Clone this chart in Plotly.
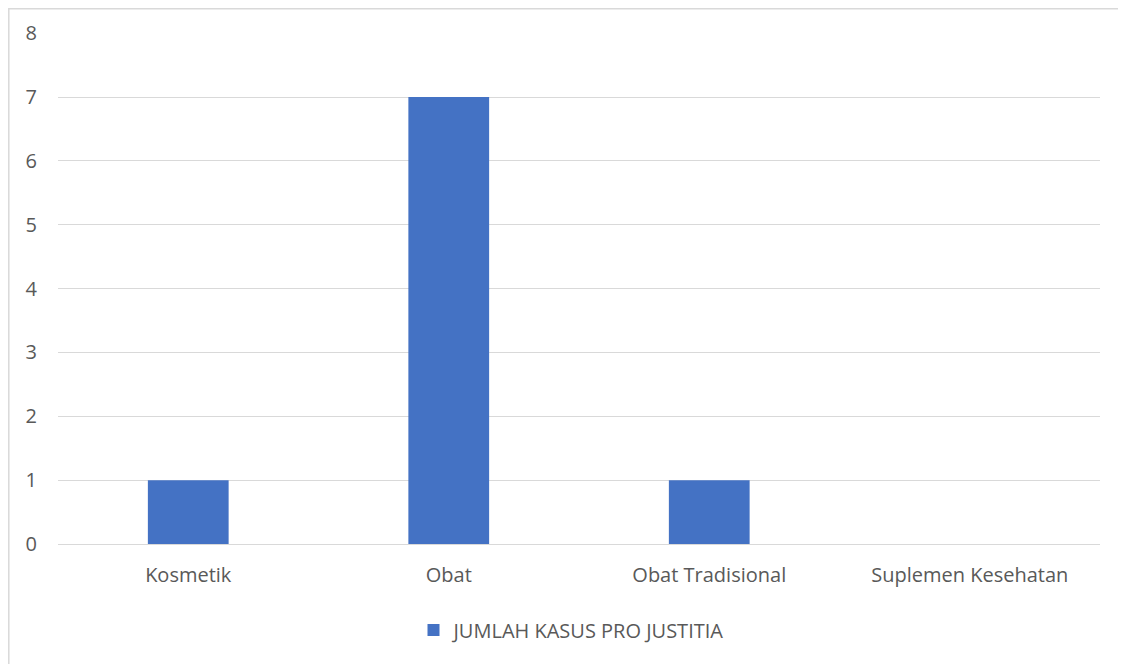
import plotly.graph_objects as go

categories = ["Kosmetik", "Obat", "Obat Tradisional", "Suplemen Kesehatan"]
values = [1, 7, 1, 0]
series_name = "JUMLAH KASUS PRO JUSTITIA"

# page body has an 8px margin; work in figure coordinates = reference - 8
OFF = 8
W, H = 1126 - OFF, 664 - OFF
L, R, T, B = 58 - OFF, 26, 33 - OFF, 120
pw, ph = W - L - R, H - T - B

fig = go.Figure()
fig.add_trace(go.Bar(
    x=categories, y=values, name=series_name,
    marker=dict(color="#4472C4", line=dict(width=0)),
    width=0.31,
))

def px2x(px):
    return (px - OFF - L) / pw

def px2y(py):
    return (H - B - (py - OFF)) / ph

FS = 20
fig.update_layout(
    width=W, height=H,
    margin=dict(l=L, r=R, t=T, b=B, autoexpand=False),
    paper_bgcolor="white", plot_bgcolor="white",
    font=dict(family="Open Sans, Noto Sans, sans-serif", size=FS, color="#595959"),
    showlegend=True,
    legend=dict(orientation="h", x=px2x(572), xanchor="center", y=px2y(630), yanchor="middle",
                font=dict(size=FS, color="#595959")),
    bargap=0.69,
    xaxis=dict(showgrid=False, showline=True, linecolor="#D9D9D9", linewidth=1,
               ticks="", tickfont=dict(size=FS, color="#595959"), ticklabelstandoff=13,
               fixedrange=True),
    yaxis=dict(range=[0, 8.003], dtick=1, showgrid=True, gridcolor="#D9D9D9", gridwidth=1,
               zeroline=False, showline=False, ticks="",
               tickfont=dict(size=FS, color="#595959"), ticklabelstandoff=20,
               fixedrange=True),
    shapes=[dict(type="rect", xref="paper", yref="paper",
                 x0=px2x(8.8), x1=px2x(1140), y0=px2y(680), y1=px2y(8.8),
                 line=dict(color="#D9D9D9", width=1.5), fillcolor="rgba(0,0,0,0)", layer="below")],
)

fig.write_html("out.html")
